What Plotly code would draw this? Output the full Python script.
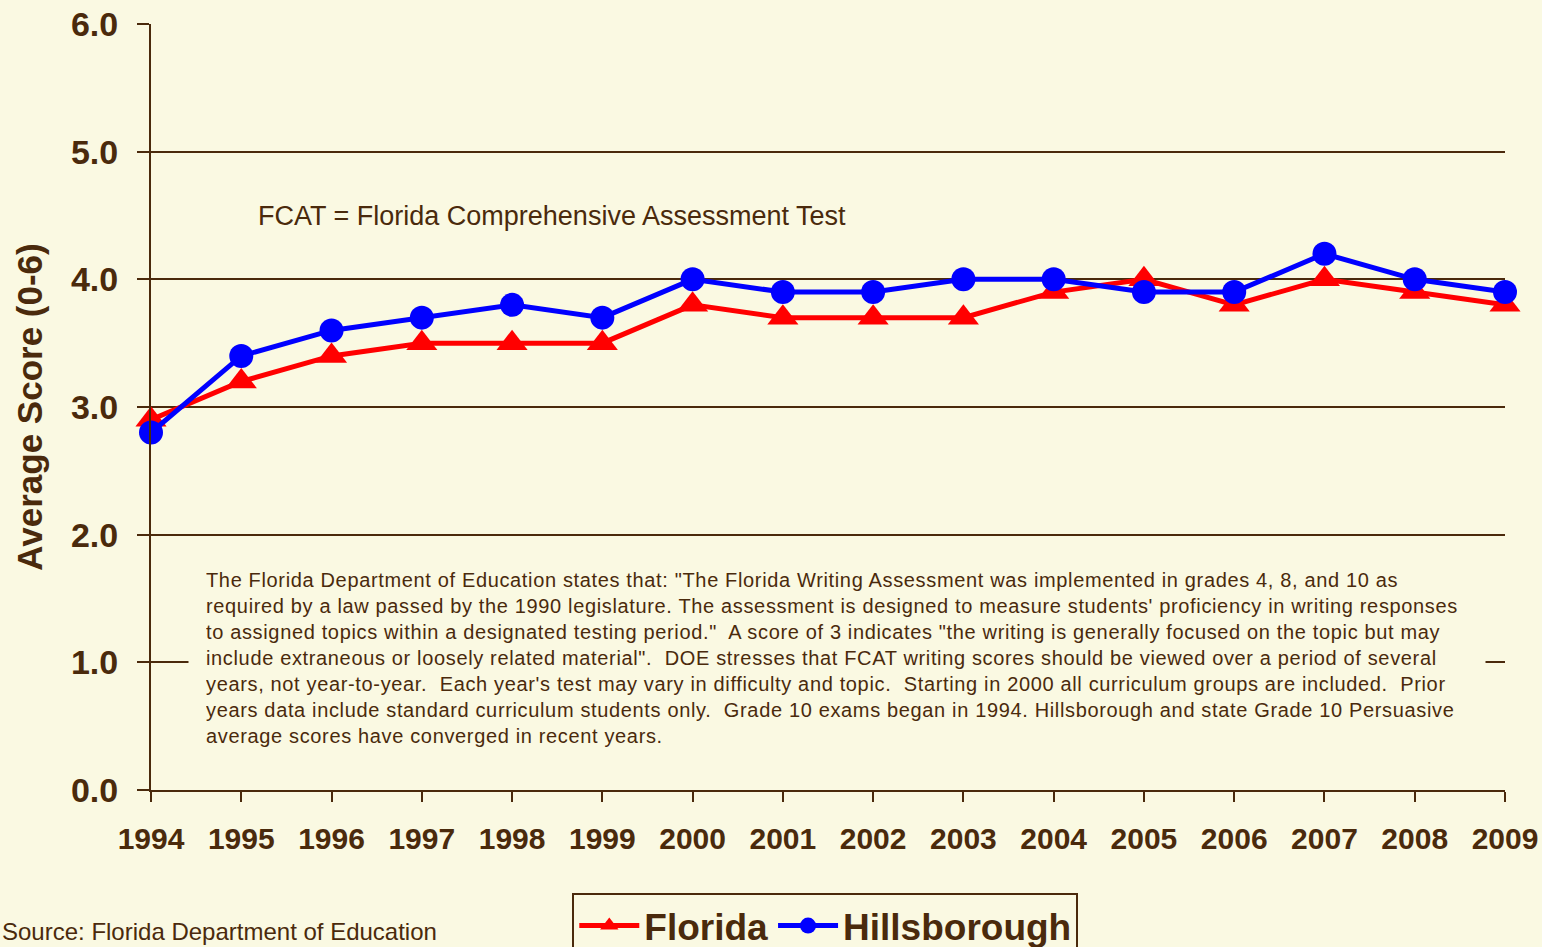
import plotly.graph_objects as go

# Scores moyens FCAT Writing, Grade 10
years = list(range(1994, 2010))
florida = [2.9, 3.2, 3.4, 3.5, 3.5, 3.5, 3.8, 3.7, 3.7, 3.7, 3.9, 4.0, 3.8, 4.0, 3.9, 3.8]
hillsborough = [2.8, 3.4, 3.6, 3.7, 3.8, 3.7, 4.0, 3.9, 3.9, 4.0, 4.0, 3.9, 3.9, 4.2, 4.0, 3.9]
y_ticks = [0, 1, 2, 3, 4, 5, 6]
y_labels = ["0.0", "1.0", "2.0", "3.0", "4.0", "5.0", "6.0"]

bg = "#FAF9E2"
brown = "#4A2A0C"
font = "Arial, Liberation Sans, sans-serif"

note_lines = [
    "The Florida Department of Education states that: \"The Florida Writing Assessment was implemented in grades 4, 8, and 10 as",
    "required by a law passed by the 1990 legislature. The assessment is designed to measure students' proficiency in writing responses",
    "to assigned topics within a designated testing period.\"  A score of 3 indicates \"the writing is generally focused on the topic but may",
    "include extraneous or loosely related material\".  DOE stresses that FCAT writing scores should be viewed over a period of several",
    "years, not year-to-year.  Each year's test may vary in difficulty and topic.  Starting in 2000 all curriculum groups are included.  Prior",
    "years data include standard curriculum students only.  Grade 10 exams began in 1994. Hillsborough and state Grade 10 Persuasive",
    "average scores have converged in recent years.",
]
note = "<br>".join('<span style="letter-spacing:0.65px">%s</span>' % l for l in note_lines)

fig = go.Figure()
fig.add_trace(go.Scatter(
    x=years, y=florida, name="<b>Florida</b>", mode="lines+markers",
    line=dict(color="#FF0000", width=5),
    marker=dict(symbol="triangle-up", size=27, color="#FF0000"),
    cliponaxis=False,
))
fig.add_trace(go.Scatter(
    x=years, y=hillsborough, name="<b>Hillsborough</b>", mode="lines+markers",
    line=dict(color="#0000FF", width=5),
    marker=dict(symbol="circle", size=24, color="#0000FF"),
    cliponaxis=False,
))

fig.update_layout(
    width=1542, height=947,
    margin=dict(l=151, r=37, t=24, b=157, autoexpand=False),
    paper_bgcolor=bg, plot_bgcolor=bg,
    font=dict(family=font, color=brown),
    xaxis=dict(
        range=[1994, 2009], tickvals=years, ticktext=["<b>%d</b>" % y for y in years],
        showgrid=False, zeroline=False, automargin=False,
        showline=True, linecolor=brown, linewidth=2,
        ticks="outside", ticklen=10, tickwidth=2, tickcolor=brown,
        ticklabelstandoff=11,
        tickfont=dict(size=30, color=brown),
    ),
    yaxis=dict(
        range=[0, 6], tickvals=y_ticks, ticktext=["<b>%s</b>" % t for t in y_labels],
        showgrid=True, gridcolor=brown, gridwidth=2, zeroline=False, automargin=False,
        showline=True, linecolor=brown, linewidth=2,
        ticks="outside", ticklen=12, tickwidth=2, tickcolor=brown,
        ticklabelstandoff=12,
        tickfont=dict(size=34, color=brown),
        title=dict(text="<b>Average Score (0-6)</b>", font=dict(size=35, color=brown), standoff=18),
    ),
    showlegend=True,
    legend=dict(
        orientation="h", x=0.498, xanchor="center", y=-0.1345, yanchor="top",
        bgcolor=bg, bordercolor=brown, borderwidth=2,
        font=dict(size=37, color=brown), itemwidth=60,
    ),
    annotations=[
        dict(text="FCAT = Florida Comprehensive Assessment Test", xref="paper", yref="paper",
             x=0.0775, y=0.749, xanchor="left", yanchor="middle", showarrow=False,
             font=dict(size=27, color=brown)),
        dict(text=note, xref="paper", yref="paper", x=0.0273, y=0.3126,
             xanchor="left", yanchor="top", showarrow=False, align="left",
             width=1262, borderpad=17, bgcolor=bg,
             font=dict(size=20, color=brown)),
        dict(text="Source: Florida Department of Education", xref="paper", yref="paper",
             x=-0.1115, y=-0.205, xanchor="left", yanchor="bottom", showarrow=False,
             font=dict(size=24, color=brown)),
    ],
)

fig.write_html("out.html", config={"displayModeBar": False},
               post_script="document.body.style.margin='0';")
